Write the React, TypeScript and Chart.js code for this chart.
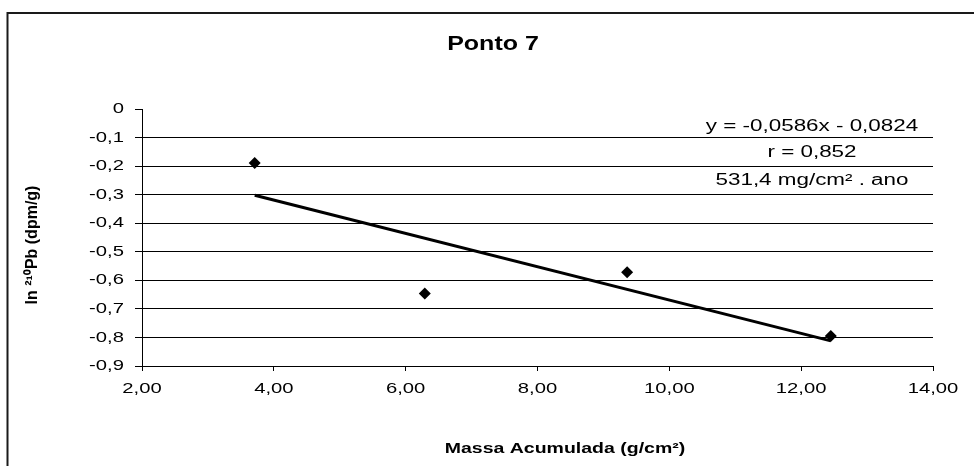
import React, { useEffect, useRef } from "react";
import { Chart, registerables } from "chart.js";

Chart.register(...registerables);

// ---- data ----
const chartTitle = "Ponto 7";
const xAxisTitle = "Massa Acumulada (g/cm²)";
const yAxisTitle = "ln ²¹⁰Pb (dpm/g)";

const massaAcumulada = [3.71, 6.29, 9.36, 12.45];
const lnPb210 = [-0.189, -0.646, -0.572, -0.795];

// linear trend line, endpoints
const trendX = [3.71, 12.45];
const trendY = [-0.302, -0.812];

const annotationLines = ["y = -0,0586x - 0,0824", "r = 0,852", "531,4 mg/cm² . ano"];

const xTickValues = [2, 4, 6, 8, 10, 12, 14];
const xTickLabels = ["2,00", "4,00", "6,00", "8,00", "10,00", "12,00", "14,00"];
const yTickValues = [0, -0.1, -0.2, -0.3, -0.4, -0.5, -0.6, -0.7, -0.8, -0.9];
const yTickLabels = ["0", "-0,1", "-0,2", "-0,3", "-0,4", "-0,5", "-0,6", "-0,7", "-0,8", "-0,9"];

const FONT = "'Liberation Sans', Arial, Helvetica, sans-serif";
const STRETCH = 1.35;

function drawText(ctx: any, text: string, x: number, y: number, font: string, align: string, sx: number) {
  ctx.save();
  ctx.translate(x, y);
  ctx.scale(sx, 1);
  ctx.font = font;
  ctx.textAlign = align;
  ctx.textBaseline = "middle";
  ctx.fillStyle = "#000";
  ctx.fillText(text, 0, 0);
  ctx.restore();
}

const decorPlugin = {
  id: "decor",
  beforeDraw(chart: any) {
    const { ctx } = chart;
    ctx.save();
    ctx.fillStyle = "#fff";
    ctx.fillRect(0, 0, chart.width, chart.height);
    ctx.restore();
  },
  afterDraw(chart: any) {
    const { ctx, scales } = chart;
    ctx.save();
    // outer chart border (left & top visible)
    ctx.strokeStyle = "#1a1a1a";
    ctx.lineWidth = 2;
    ctx.beginPath();
    ctx.moveTo(7.5, chart.height + 5);
    ctx.lineTo(7.5, 13);
    ctx.lineTo(chart.width + 5, 13);
    ctx.stroke();
    ctx.restore();

    // tick labels
    const tickFont = `15px ${FONT}`;
    yTickValues.forEach((v, i) => {
      drawText(ctx, yTickLabels[i], 124, scales.y.getPixelForValue(v), tickFont, "right", STRETCH);
    });
    xTickValues.forEach((v, i) => {
      drawText(ctx, xTickLabels[i], scales.x.getPixelForValue(v), 389, tickFont, "center", STRETCH);
    });

    // title
    drawText(ctx, chartTitle, 493, 44, `bold 20px ${FONT}`, "center", 1.25);
    // x title
    drawText(ctx, xAxisTitle, 565, 449, `bold 15px ${FONT}`, "center", 1.3);
    // y title (rotated)
    ctx.save();
    ctx.translate(33, 245);
    ctx.rotate(-Math.PI / 2);
    ctx.font = `bold 16px ${FONT}`;
    ctx.textAlign = "center";
    ctx.textBaseline = "middle";
    ctx.fillStyle = "#000";
    ctx.fillText(yAxisTitle, 0, 0);
    ctx.restore();

    // regression annotation
    const ys = [127, 153, 181];
    annotationLines.forEach((t, i) => drawText(ctx, t, 812, ys[i], `16px ${FONT}`, "center", 1.4));
  },
};

export default function App() {
  const ref = useRef<HTMLCanvasElement | null>(null);

  useEffect(() => {
    if (!ref.current) return;
    const chart = new Chart(ref.current, {
      type: "scatter",
      data: {
        datasets: [
          {
            type: "line",
            label: "Linear",
            data: trendX.map((x, i) => ({ x, y: trendY[i] })),
            borderColor: "#000",
            borderWidth: 3,
            pointRadius: 0,
            fill: false,
            order: 2,
          } as any,
          {
            label: "ln Pb",
            data: massaAcumulada.map((x, i) => ({ x, y: lnPb210[i] })),
            pointStyle: "rectRot",
            pointRadius: 6,
            backgroundColor: "#000",
            borderColor: "#000",
            borderWidth: 0,
            order: 1,
          },
        ],
      },
      options: {
        responsive: false,
        animation: false,
        layout: { padding: { top: 109, right: 41, left: 0, bottom: 0 } },
        plugins: {
          legend: { display: false },
          title: { display: false },
          tooltip: { enabled: false },
        },
        scales: {
          x: {
            type: "linear",
            min: 2,
            max: 14,
            afterFit: (s: any) => {
              s.height = 100;
            },
            ticks: {
              stepSize: 2,
              color: "rgba(0,0,0,0)",
              font: { family: FONT, size: 14 },
              maxRotation: 0,
              callback: (v: any) => xTickLabels[xTickValues.indexOf(Number(v))] ?? "",
            },
            grid: {
              drawOnChartArea: false,
              drawTicks: true,
              tickLength: 5,
              tickColor: "#000",
              color: "#000",
            },
            border: { display: true, color: "#000", width: 1 },
          },
          y: {
            type: "linear",
            min: -0.9,
            max: 0,
            afterFit: (s: any) => {
              s.width = 142;
            },
            ticks: {
              stepSize: 0.1,
              color: "rgba(0,0,0,0)",
              font: { family: FONT, size: 14 },
              callback: (v: any) => yTickLabels[Math.round(-Number(v) * 10)] ?? "",
            },
            grid: {
              color: (c: any) =>
                c.tick && Math.abs(c.tick.value) < 1e-9 ? "rgba(0,0,0,0)" : "#000",
              tickColor: "#000",
              tickLength: 7,
              lineWidth: 1,
            },
            border: { display: true, color: "#000", width: 1 },
          },
        },
      },
      plugins: [decorPlugin],
    });
    return () => chart.destroy();
  }, []);

  return (
    <div style={{ position: "absolute", left: 0, top: 0, width: 974, height: 466 }}>
      <canvas ref={ref} width={974} height={466} style={{ display: "block" }} />
    </div>
  );
}
